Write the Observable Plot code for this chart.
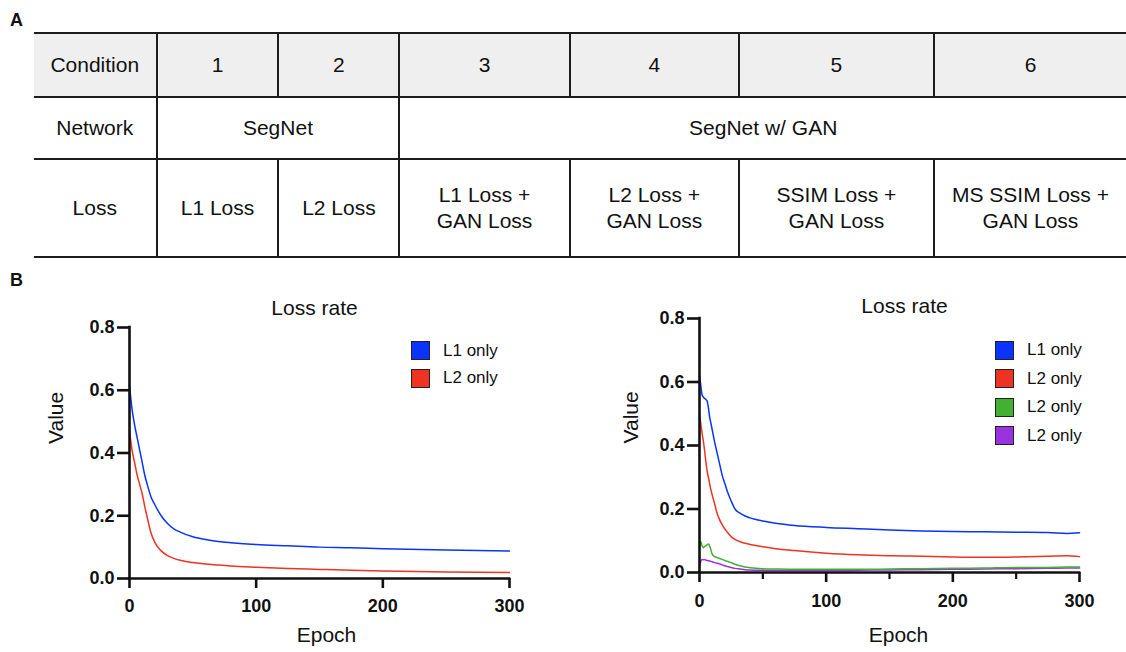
<!DOCTYPE html>
<html><head><meta charset="utf-8">
<script src="https://cdn.jsdelivr.net/npm/d3@7"></script>
<script src="https://cdn.jsdelivr.net/npm/@observablehq/plot@0.6"></script>
<style>
html,body{margin:0;padding:0;background:#fff;}
body{width:1126px;height:652px;overflow:hidden;position:relative;font-family:"Liberation Sans",Arial,Helvetica,sans-serif;color:#111;}
.panel{position:absolute;left:10px;font-weight:bold;font-size:18px;line-height:18px;}
table{position:absolute;left:34px;top:32px;border-collapse:collapse;table-layout:fixed;font-size:21px;}
td{border-top:2px solid #1c1c1c;border-bottom:2px solid #1c1c1c;border-left:2px solid #1c1c1c;text-align:center;vertical-align:middle;padding:0;line-height:26px;}
td:first-child{border-left:none;}
tr.head td{background:#efefef;}
.chart{position:absolute;top:270px;}
.legend{position:absolute;font-size:17px;}
.legend .item{display:flex;align-items:center;height:28px;}
.legend .sw{width:19px;height:19px;box-sizing:border-box;border:1.5px solid #222;margin-right:13px;}
</style>
</head><body>
<div class="panel" style="top:11px">A</div>
<div class="panel" style="top:271px">B</div>
<script>
// ---------- table content ----------
const rowHeaders = ["Condition", "Network", "Loss"];
const conditions = ["1", "2", "3", "4", "5", "6"];
const networks = ["SegNet", "SegNet w/ GAN"];
const networkSpans = [2, 4];
const losses = ["L1 Loss", "L2 Loss", "L1 Loss +\nGAN Loss", "L2 Loss +\nGAN Loss", "SSIM Loss +\nGAN Loss", "MS SSIM Loss +\nGAN Loss"];

// ---------- chart data ----------
const xTicks = [0, 100, 200, 300];
const xMinorTicks = [50, 150, 250];
const yTicks = [0, 0.2, 0.4, 0.6, 0.8];
const chartTitle = "Loss rate";
const xLabel = "Epoch";
const yLabel = "Value";

// left panel
const leftLabels = ["L1 only", "L2 only"];
const leftColors = ["#0a33ff", "#ee3322"];
const leftEpochs = [0, 2, 4, 6, 8, 10, 12, 14, 17, 20, 25, 30, 35, 40, 50, 60, 70, 80, 100, 125, 150, 175, 200, 250, 300];
const leftL1 = [0.615, 0.54, 0.49, 0.45, 0.41, 0.37, 0.33, 0.30, 0.26, 0.235, 0.20, 0.175, 0.158, 0.148, 0.133, 0.124, 0.118, 0.114, 0.108, 0.104, 0.100, 0.098, 0.095, 0.091, 0.088];
const leftL2 = [0.47, 0.41, 0.37, 0.33, 0.30, 0.27, 0.23, 0.195, 0.145, 0.115, 0.088, 0.073, 0.064, 0.058, 0.051, 0.046, 0.043, 0.040, 0.036, 0.032, 0.029, 0.026, 0.024, 0.021, 0.019];

// right panel
const rightLabels = ["L1 only", "L2 only", "L2 only", "L2 only"];
const rightColors = ["#0a33ff", "#ee3322", "#44b033", "#9933dd"];
const rightEpochs = [0, 1, 2, 3, 4, 5, 6, 7, 8, 9, 10, 12, 14, 16, 18, 20, 22, 25, 28, 32, 36, 40, 50, 60, 75, 100, 125, 150, 175, 200, 225, 250, 275, 290, 300];
const rightS1 = [0.62, 0.59, 0.56, 0.553, 0.548, 0.545, 0.54, 0.52, 0.49, 0.47, 0.45, 0.41, 0.375, 0.34, 0.305, 0.28, 0.255, 0.225, 0.20, 0.187, 0.178, 0.172, 0.162, 0.155, 0.148, 0.142, 0.138, 0.134, 0.131, 0.129, 0.128, 0.127, 0.126, 0.123, 0.125];
const rightS2 = [0.495, 0.47, 0.44, 0.415, 0.385, 0.35, 0.32, 0.30, 0.28, 0.26, 0.245, 0.215, 0.185, 0.165, 0.15, 0.137, 0.127, 0.113, 0.104, 0.097, 0.092, 0.088, 0.081, 0.075, 0.069, 0.061, 0.056, 0.053, 0.051, 0.049, 0.048, 0.049, 0.051, 0.053, 0.050];
const rightS3 = [0.075, 0.098, 0.085, 0.078, 0.082, 0.084, 0.088, 0.09, 0.084, 0.072, 0.058, 0.05, 0.047, 0.044, 0.041, 0.038, 0.035, 0.031, 0.026, 0.021, 0.017, 0.015, 0.012, 0.011, 0.010, 0.010, 0.010, 0.011, 0.012, 0.013, 0.014, 0.016, 0.016, 0.017, 0.017];
const rightS4 = [0.02, 0.035, 0.041, 0.04, 0.041, 0.039, 0.038, 0.037, 0.036, 0.035, 0.034, 0.031, 0.029, 0.027, 0.024, 0.021, 0.019, 0.016, 0.013, 0.011, 0.009, 0.008, 0.007, 0.006, 0.006, 0.006, 0.007, 0.008, 0.009, 0.010, 0.011, 0.012, 0.013, 0.014, 0.014];

// ---------- build table ----------
const colWidths = [123, 123, 122, 172, 171, 197, 194];
const rowHeights = [62, 60, 96];
const table = document.createElement("table");
const cg = document.createElement("colgroup");
colWidths.forEach(w => { const c = document.createElement("col"); c.style.width = w + "px"; cg.appendChild(c); });
table.appendChild(cg);
function addRow(header, cells, spans, cls, h) {
  const tr = document.createElement("tr");
  if (cls) tr.className = cls;
  const th = document.createElement("td"); th.textContent = header; th.style.height = h + "px"; tr.appendChild(th);
  cells.forEach((t, i) => {
    const td = document.createElement("td");
    td.innerHTML = t.split("\n").join("<br>");
    if (spans) td.colSpan = spans[i];
    tr.appendChild(td);
  });
  table.appendChild(tr);
}
addRow(rowHeaders[0], conditions, null, "head", rowHeights[0]);
addRow(rowHeaders[1], networks, networkSpans, "", rowHeights[1]);
addRow(rowHeaders[2], losses, null, "", rowHeights[2]);
document.body.appendChild(table);

// ---------- charts ----------
function makeData(epochs, seriesList) {
  const out = [];
  seriesList.forEach((vals, k) => vals.forEach((v, i) => out.push({epoch: epochs[i], value: v, key: "s" + k})));
  return out;
}

function makeChart(cfg) {
  const keys = cfg.colors.map((c, k) => "s" + k);
  const data = makeData(cfg.epochs, cfg.series);
  const axisFont = {fontSize: 18, fontWeight: "bold", fill: "#111", stroke: "#111"};
  const marks = [];
  // lines drawn last-series first so first series is on top
  marks.push(Plot.line(data, {x: "epoch", y: "value", z: "key", stroke: "key", strokeWidth: 1.5, curve: "monotone-x", sort: {channel: "z", order: "descending"}}));
  marks.push(Plot.ruleX([0], {y1: 0, y2: 0.8, stroke: "#111", strokeWidth: 2.6, strokeLinecap: "square"}));
  marks.push(Plot.ruleY([0], {x1: 0, x2: 300, stroke: "#111", strokeWidth: 2.6, strokeLinecap: "square"}));
  marks.push(Plot.axisY({ticks: yTicks, tickSize: 12, tickPadding: 3, tickFormat: d3.format(".1f"), label: null, strokeWidth: 2.6, ...axisFont, stroke: "#111"}));
  marks.push(Plot.axisX({ticks: xTicks, tickSize: 10, tickPadding: cfg.xPad, tickFormat: d3.format("d"), label: null, strokeWidth: 2.6, ...axisFont, stroke: "#111"}));
  if (cfg.minor) marks.push(Plot.axisX({ticks: xMinorTicks, tickSize: 7, tickFormat: () => "", label: null, strokeWidth: 2.2, stroke: "#111"}));
  const lbl = {fontSize: 21, fontWeight: "normal", fill: "#111", text: d => d};
  marks.push(Plot.text([chartTitle], {...lbl, frameAnchor: "top", dx: cfg.title[0], dy: cfg.title[1]}));
  marks.push(Plot.text([yLabel], {...lbl, frameAnchor: "left", rotate: -90, dx: cfg.ylab[0], dy: cfg.ylab[1]}));
  marks.push(Plot.text([xLabel], {...lbl, frameAnchor: "bottom", dx: cfg.xlab[0], dy: cfg.xlab[1]}));
  const svg = Plot.plot({
    width: cfg.width, height: 382,
    marginLeft: cfg.m[0], marginRight: cfg.m[1], marginTop: cfg.m[2], marginBottom: cfg.m[3],
    x: {domain: [0, 300]},
    y: {domain: [0, 0.8]},
    color: {domain: keys, range: cfg.colors},
    style: {fontFamily: "Liberation Sans, Arial, sans-serif", background: "transparent", overflow: "visible"},
    marks
  });
  svg.classList.add("chart");
  svg.style.left = cfg.left + "px";
  document.body.appendChild(svg);

  const lg = document.createElement("div");
  lg.className = "legend";
  lg.style.left = cfg.legend[0] + "px";
  lg.style.top = cfg.legend[1] + "px";
  cfg.labels.forEach((l, k) => {
    const it = document.createElement("div"); it.className = "item";
    const sw = document.createElement("div"); sw.className = "sw"; sw.style.background = cfg.colors[k];
    const tx = document.createElement("span"); tx.textContent = l;
    it.appendChild(sw); it.appendChild(tx); lg.appendChild(it);
  });
  lg.firstChild && (lg.querySelectorAll(".item").forEach(e => e.style.height = cfg.legendStep + "px"));
  document.body.appendChild(lg);
}

makeChart({
  left: 0, width: 560, m: [129, 51, 57, 74],
  epochs: leftEpochs, series: [leftL1, leftL2], colors: leftColors, labels: leftLabels,
  title: [-5, -27], ylab: [-73, -9], xlab: [7, 63], xPad: 11, minor: false,
  legend: [411, 337], legendStep: 27.5
});
makeChart({
  left: 563, width: 563, m: [136, 47, 48, 80],
  epochs: rightEpochs, series: [rightS1, rightS2, rightS3, rightS4], colors: rightColors, labels: rightLabels,
  title: [15, -20], ylab: [-68, -2], xlab: [9, 69], xPad: 12, minor: true,
  legend: [995, 336], legendStep: 28.5
});
</script>
</body></html>
